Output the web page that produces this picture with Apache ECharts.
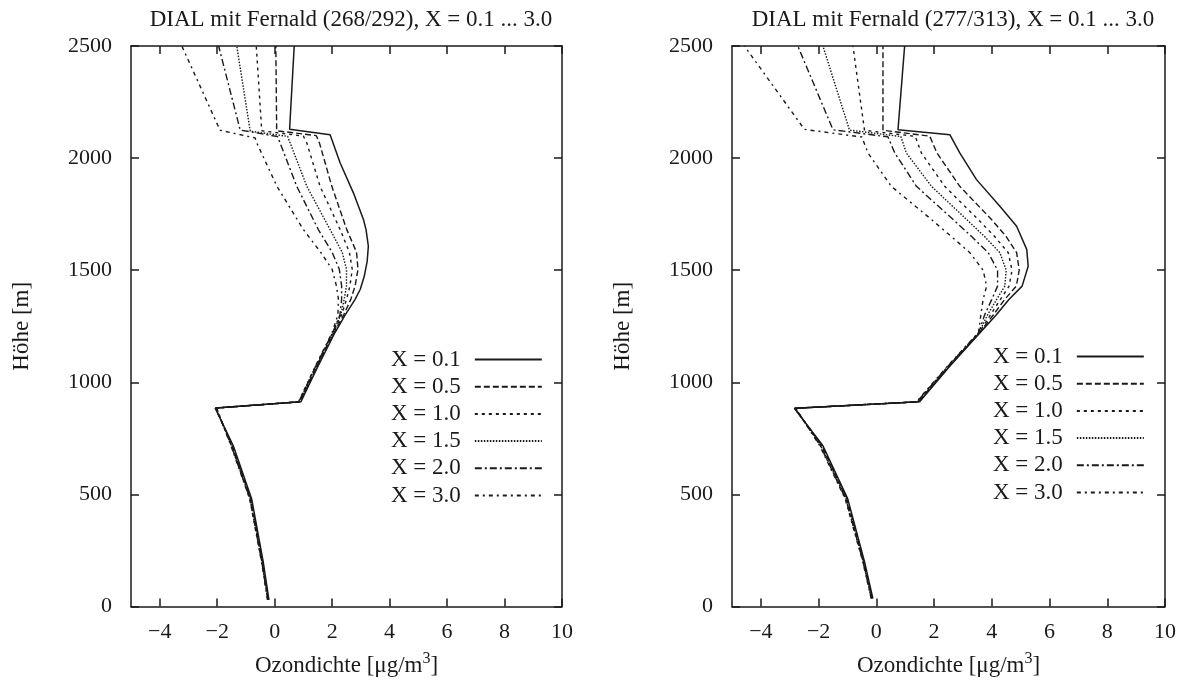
<!DOCTYPE html>
<html>
<head>
<meta charset="utf-8">
<title>DIAL mit Fernald</title>
<script src="https://cdn.jsdelivr.net/npm/echarts@6/dist/echarts.min.js"></script>
<style>
    body { margin: 0; background: #fff; }
    #chart { width: 1190px; height: 682px; }
</style>
</head>
<body>
<div id="chart"></div>
<script>
    // Legend / series names
    const names = ['X = 0.1', 'X = 0.5', 'X = 1.0', 'X = 1.5', 'X = 2.0', 'X = 3.0'];
    const titles = ['DIAL mit Fernald (268/292), X = 0.1 ... 3.0', 'DIAL mit Fernald (277/313), X = 0.1 ... 3.0'];
    const xTicks = [-4, -2, 0, 2, 4, 6, 8, 10];

    // left plot (268/292): heights [m] and ozone density per curve
    const L_h_01 = [30, 200, 480, 717, 885, 913, 1070, 1222, 1300, 1370, 1415, 1474, 1540, 1607, 1681, 1726, 1845, 1978, 2104, 2129, 2500];
    const L_x_01 = [-0.2, -0.4, -0.8, -1.44, -2.07, 0.91, 1.5, 2.1, 2.45, 2.8, 2.98, 3.12, 3.22, 3.26, 3.18, 3.09, 2.74, 2.28, 1.93, 0.52, 0.68];
    const L_h_05 = [30, 200, 480, 717, 885, 913, 1070, 1222, 1300, 1370, 1430, 1504, 1580, 1681, 1874, 2067, 2100, 2122, 2500];
    const L_x_05 = [-0.22, -0.42, -0.83, -1.47, -2.06, 0.88, 1.47, 2.07, 2.4, 2.65, 2.8, 2.9, 2.85, 2.51, 1.99, 1.56, 1.45, 0.07, 0.04];
    const L_h_10 = [30, 200, 480, 717, 885, 913, 1070, 1222, 1300, 1370, 1430, 1504, 1580, 1681, 1874, 2067, 2098, 2122, 2500];
    const L_x_10 = [-0.21, -0.43, -0.84, -1.48, -2.05, 0.86, 1.45, 2.05, 2.33, 2.5, 2.62, 2.7, 2.6, 2.28, 1.58, 1.12, 1.0, -0.45, -0.64];
    const L_h_15 = [30, 200, 480, 717, 885, 913, 1070, 1222, 1300, 1370, 1430, 1504, 1580, 1681, 1874, 2067, 2097, 2120, 2500];
    const L_x_15 = [-0.23, -0.44, -0.85, -1.5, -2.04, 0.85, 1.43, 2.03, 2.3, 2.42, 2.5, 2.5, 2.35, 1.93, 1.12, 0.54, 0.45, -0.85, -1.32];
    const L_h_20 = [30, 200, 480, 717, 885, 913, 1070, 1222, 1300, 1370, 1430, 1504, 1580, 1681, 1874, 2067, 2096, 2125, 2500];
    const L_x_20 = [-0.24, -0.45, -0.86, -1.51, -2.03, 0.84, 1.42, 2.02, 2.27, 2.33, 2.33, 2.25, 2.0, 1.52, 0.77, 0.19, 0.1, -1.2, -1.95];
    const L_h_30 = [30, 200, 480, 717, 885, 913, 1070, 1222, 1300, 1370, 1430, 1504, 1580, 1681, 1874, 2067, 2090, 2124, 2500];
    const L_x_30 = [-0.25, -0.46, -0.87, -1.52, -2.02, 0.83, 1.41, 2.0, 2.2, 2.22, 2.15, 2.0, 1.6, 1.0, 0.08, -0.62, -0.68, -1.9, -3.23];

    // right plot (277/313)
    const R_h_01 = [36, 200, 480, 717, 884, 913, 1073, 1222, 1300, 1370, 1429, 1518, 1593, 1696, 1785, 1904, 2023, 2104, 2126, 2500];
    const R_x_01 = [-0.12, -0.41, -0.99, -1.85, -2.84, 1.5, 2.55, 3.6, 4.15, 4.6, 5.05, 5.26, 5.21, 4.86, 4.28, 3.47, 2.89, 2.55, 0.75, 0.98];
    const R_h_05 = [36, 200, 480, 717, 884, 913, 1073, 1222, 1300, 1370, 1429, 1500, 1578, 1650, 1726, 1874, 2023, 2098, 2124, 2500];
    const R_x_05 = [-0.14, -0.43, -1.01, -1.88, -2.83, 1.47, 2.53, 3.58, 4.05, 4.45, 4.85, 4.95, 4.86, 4.5, 3.99, 2.89, 2.1, 1.85, 0.23, 0.23];
    const R_h_10 = [36, 200, 480, 717, 884, 913, 1073, 1222, 1300, 1370, 1429, 1500, 1578, 1650, 1726, 1874, 2023, 2097, 2124, 2500];
    const R_x_10 = [-0.15, -0.44, -1.03, -1.9, -2.82, 1.45, 2.52, 3.57, 3.95, 4.3, 4.6, 4.7, 4.57, 4.1, 3.53, 2.37, 1.56, 1.35, -0.41, -0.81];
    const R_h_15 = [36, 200, 480, 717, 884, 913, 1073, 1222, 1300, 1370, 1429, 1500, 1578, 1650, 1726, 1874, 2023, 2096, 2125, 2500];
    const R_x_15 = [-0.16, -0.45, -1.05, -1.92, -2.81, 1.43, 2.5, 3.56, 3.85, 4.17, 4.45, 4.5, 4.28, 3.75, 3.13, 1.91, 1.04, 0.85, -0.93, -1.85];
    const R_h_20 = [36, 200, 480, 717, 884, 913, 1073, 1222, 1300, 1370, 1429, 1500, 1578, 1650, 1726, 1874, 2023, 2095, 2126, 2500];
    const R_x_20 = [-0.17, -0.46, -1.06, -1.94, -2.8, 1.41, 2.49, 3.55, 3.75, 4.0, 4.2, 4.2, 3.88, 3.3, 2.66, 1.39, 0.64, 0.4, -1.5, -2.72];
    const R_h_30 = [36, 200, 480, 717, 884, 913, 1073, 1222, 1300, 1370, 1429, 1500, 1578, 1650, 1726, 1874, 2023, 2094, 2128, 2500];
    const R_x_30 = [-0.18, -0.47, -1.08, -1.96, -2.79, 1.39, 2.47, 3.54, 3.62, 3.7, 3.82, 3.7, 3.24, 2.6, 1.91, 0.52, -0.29, -0.5, -2.49, -4.57];

    const leftX = [L_x_01, L_x_05, L_x_10, L_x_15, L_x_20, L_x_30];
    const leftH = [L_h_01, L_h_05, L_h_10, L_h_15, L_h_20, L_h_30];
    const rightX = [R_x_01, R_x_05, R_x_10, R_x_15, R_x_20, R_x_30];
    const rightH = [R_h_01, R_h_05, R_h_10, R_h_15, R_h_20, R_h_30];

    let myChart = echarts.init(document.getElementById('chart'));

    const font = 'Liberation Serif, Times New Roman, serif';
    const ink = '#1a1a1a';
    // line patterns: solid, dashed, short dashed, dotted, dash-dot, dash-dot (wider)
    const dashes = ['solid', [6, 3], [3, 4], [1.5, 1.5], [7, 3, 2, 3], [4, 4, 2, 4]];
    const widths = [1.5, 1.4, 1.4, 1.4, 1.4, 1.4];

    const minus = (v) => String(v).replace('-', '\u2212');

    function bottomAxis(gi) {
        return {
            type: 'value', gridIndex: gi, position: 'bottom', min: -5, max: 10,
            axisLine: {onZero: false, lineStyle: {color: ink, width: 1.5}},
            axisTick: {inside: true, length: 8, customValues: xTicks, lineStyle: {color: ink, width: 1.5}},
            axisLabel: {customValues: xTicks, formatter: minus, margin: 15, fontFamily: font, fontSize: 22, color: ink},
            splitLine: {show: false},
            name: 'Ozondichte [\u03bcg/m{sup|3}]',
            nameLocation: 'middle', nameGap: 44,
            nameTextStyle: {fontFamily: font, fontSize: 23, color: ink,
                rich: {sup: {fontFamily: font, fontSize: 16, color: ink, verticalAlign: 'top', padding: [0, 0, 14, 0]}}}
        };
    }
    function topAxis(gi) {
        return {
            type: 'value', gridIndex: gi, position: 'top', min: -5, max: 10,
            axisLine: {onZero: false, lineStyle: {color: ink, width: 1.5}},
            axisTick: {inside: true, length: 8, customValues: xTicks, lineStyle: {color: ink, width: 1.5}},
            axisLabel: {show: false},
            splitLine: {show: false}
        };
    }
    function leftAxis(gi) {
        return {
            type: 'value', gridIndex: gi, position: 'left', min: 0, max: 2500, interval: 500,
            axisLine: {show: true, onZero: false, lineStyle: {color: ink, width: 1.5}},
            axisTick: {show: true, inside: true, length: 8, lineStyle: {color: ink, width: 1.5}},
            axisLabel: {margin: 19, formatter: (v) => String(v), fontFamily: font, fontSize: 22, color: ink},
            splitLine: {show: false},
            name: 'H\u00f6he [m]', nameLocation: 'middle', nameGap: 98, nameRotate: 90,
            nameTextStyle: {fontFamily: font, fontSize: 23, color: ink}
        };
    }
    function rightAxis(gi) {
        return {
            type: 'value', gridIndex: gi, position: 'right', min: 0, max: 2500, interval: 500,
            axisLine: {show: true, onZero: false, lineStyle: {color: ink, width: 1.5}},
            axisTick: {show: true, inside: true, length: 8, lineStyle: {color: ink, width: 1.5}},
            axisLabel: {show: false},
            splitLine: {show: false}
        };
    }

    let series = [];
    [[leftX, leftH, 0], [rightX, rightH, 2]].forEach(([xs, hs, ai]) => {
        names.forEach((n, i) => {
            series.push({
                name: n,
                type: 'line',
                xAxisIndex: ai,
                yAxisIndex: ai,
                symbol: 'none',
                smooth: false,
                lineStyle: {color: ink, width: widths[i], type: dashes[i]},
                itemStyle: {color: ink},
                data: hs[i].map((h, k) => [xs[i][k], h])
            });
        });
    });

    const legendBase = {
        orient: 'vertical', align: 'right',
        itemWidth: 67, itemHeight: 10, itemGap: 4.2,
        selectedMode: false,
        data: names,
        itemStyle: {opacity: 0},
        textStyle: {fontFamily: font, fontSize: 23, color: ink, lineHeight: 20, padding: [0, 9, 0, 0]}
    };

    let option = {
        backgroundColor: '#fff',
        animation: false,
        title: [
            {text: titles[0], left: 346, top: 3, textAlign: 'center',
                textStyle: {fontFamily: font, fontSize: 23, fontWeight: 'normal', color: ink}},
            {text: titles[1], left: 948, top: 3, textAlign: 'center',
                textStyle: {fontFamily: font, fontSize: 23, fontWeight: 'normal', color: ink}}
        ],
        grid: [
            {left: 131, top: 46, width: 431, height: 562},
            {left: 732, top: 46, width: 433, height: 562}
        ],
        legend: [
            Object.assign({}, legendBase, {left: 386, top: 343}),
            Object.assign({}, legendBase, {left: 988, top: 340})
        ],
        xAxis: [bottomAxis(0), topAxis(0), bottomAxis(1), topAxis(1)],
        yAxis: [leftAxis(0), rightAxis(0), leftAxis(1), rightAxis(1)],
        series: series
    };

    myChart.setOption(option);
</script>
</body>
</html>
